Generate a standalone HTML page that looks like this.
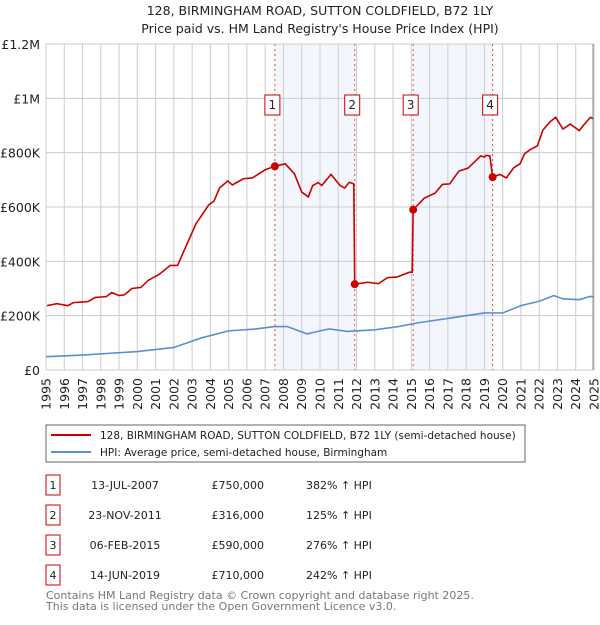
<!DOCTYPE html>
<html><head><meta charset="utf-8"><style>
body{margin:0;background:#fff;font-family:"Liberation Sans","DejaVu Sans",sans-serif;}
svg text{font-family:"DejaVu Sans","Liberation Sans",sans-serif;}
</style></head><body>
<svg id="c" width="600" height="620" xmlns="http://www.w3.org/2000/svg">
<text x="320" y="15" font-size="12.5" text-anchor="middle" fill="#222">128, BIRMINGHAM ROAD, SUTTON COLDFIELD, B72 1LY</text>
<text x="320" y="33" font-size="12.5" text-anchor="middle" fill="#222">Price paid vs. HM Land Registry's House Price Index (HPI)</text>
<g id="plot"></g>
<rect x="46" y="425" width="479" height="37" fill="#fff" stroke="#666"/>
<line x1="51" y1="435" x2="91" y2="435" stroke="#cc0000" stroke-width="2"/>
<text x="100" y="439" font-size="10.5" fill="#222">128, BIRMINGHAM ROAD, SUTTON COLDFIELD, B72 1LY (semi-detached house)</text>
<line x1="51" y1="452" x2="91" y2="452" stroke="#5b8fd4" stroke-width="2"/>
<text x="100" y="456" font-size="10.5" fill="#222">HPI: Average price, semi-detached house, Birmingham</text>
<g id="tbl"></g>
<text x="46" y="599" font-size="11" fill="#777">Contains HM Land Registry data © Crown copyright and database right 2025.</text>
<text x="46" y="610" font-size="11" fill="#777">This data is licensed under the Open Government Licence v3.0.</text>
</svg>
<script>
const priceYears=[1995.05,1995.6,1996.2,1996.5,1997.3,1997.7,1998.3,1998.6,1999.0,1999.3,1999.7,2000.2,2000.6,2001.2,2001.8,2002.2,2003.2,2003.9,2004.2,2004.5,2004.95,2005.2,2005.8,2006.3,2007.0,2007.53,2008.1,2008.6,2009.0,2009.36,2009.6,2009.9,2010.1,2010.6,2011.1,2011.35,2011.6,2011.85,2011.9,2012.6,2013.2,2013.7,2014.2,2014.9,2015.05,2015.1,2015.7,2016.3,2016.7,2017.1,2017.6,2018.1,2018.8,2019.0,2019.1,2019.3,2019.45,2019.85,2020.2,2020.6,2020.95,2021.2,2021.5,2021.9,2022.2,2022.6,2022.9,2023.3,2023.7,2024.2,2024.4,2024.8,2024.95];
const priceVals=[237,244,237,248,252,267,270,285,274,277,300,304,330,352,385,385,537,607,622,670,696,681,704,707,737,750,759,722,655,637,679,690,679,720,679,670,691,685,316,323,318,340,342,360,360,590,632,651,683,685,732,743,788,784,790,788,710,720,707,744,759,796,811,825,883,914,930,887,905,881,899,930,925];
const hpiYears=[1995,1997,2000,2002,2003.5,2005,2006.5,2007.5,2008.2,2009.3,2010,2010.5,2011.5,2013,2014.3,2015.3,2017.5,2019,2020,2021,2022,2022.8,2023.3,2024.2,2024.8,2025];
const hpiVals=[49,55,68,83,118,144,151,160,160,133,144,151,142,148,160,173,195,210,210,237,253,274,262,259,271,268];
const saleYears=[2007.53,2011.9,2015.1,2019.45];
const saleVals=[750,316,590,710];
const saleDates=["13-JUL-2007","23-NOV-2011","06-FEB-2015","14-JUN-2019"];
const salePrices=["£750,000","£316,000","£590,000","£710,000"];
const salePct=["382% ↑ HPI","125% ↑ HPI","276% ↑ HPI","242% ↑ HPI"];
const yTicks=[0,200,400,600,800,1000,1200];
const yTickLabels=["£0","£200K","£400K","£600K","£800K","£1M","£1.2M"];
const NS="http://www.w3.org/2000/svg";
const X0=46,X1=594,Y0=370,Y1=44;
const xs=y=>X0+(y-1995)/30*(X1-X0);
const ys=v=>Y0-v/1200*(Y0-Y1);
const g=document.getElementById('plot');
function mk(t,a,p){const e=document.createElementNS(NS,t);for(const k in a)e.setAttribute(k,a[k]);(p||g).appendChild(e);return e;}
let e;
e=mk('rect',{x:X0,y:Y1,width:X1-X0,height:Y0-Y1,fill:'#fff'});


[[0,1],[2,3]].forEach(p=>{e=mk('rect',{x:xs(saleYears[p[0]]),y:Y1,width:xs(saleYears[p[1]])-xs(saleYears[p[0]]),height:Y0-Y1,fill:'#eef3fc',opacity:0.7});

});
for(let y=1995;y<=2025;y++){e=mk('line',{x1:xs(y),x2:xs(y),y1:Y1,y2:Y0,stroke:'#ccc','stroke-width':1});


const t=mk('text',{x:0,y:0,'font-size':12.5,fill:'#222','text-anchor':'end',transform:`translate(${xs(y)+4.5},${Y0+8}) rotate(-90)`});t.textContent=y;

}
yTicks.forEach((v,i)=>{e=mk('line',{x1:X0,x2:X1,y1:ys(v),y2:ys(v),stroke:'#ccc','stroke-width':1});


const t=mk('text',{x:X0-6,y:ys(v)+5,'font-size':12.5,fill:'#222','text-anchor':'end'});t.textContent=yTickLabels[i];

});
e=mk('line',{x1:X1-1,x2:X1-1,y1:Y1,y2:Y0,stroke:'#888','stroke-width':1});


saleYears.forEach((y,i)=>{e=mk('line',{x1:xs(y),x2:xs(y),y1:Y1,y2:Y0,stroke:'#ee4444','stroke-width':1,'stroke-dasharray':'2,3'});

});
e=mk('polyline',{points:hpiYears.map((y,i)=>xs(y)+','+ys(hpiVals[i])).join(' '),fill:'none',stroke:'#5b8fd4','stroke-width':1.6});


e=mk('polyline',{points:priceYears.map((y,i)=>xs(y)+','+ys(priceVals[i])).join(' '),fill:'none',stroke:'#cc0000','stroke-width':1.6});


saleYears.forEach((y,i)=>{e=mk('circle',{cx:xs(y),cy:ys(saleVals[i]),r:4,fill:'#cc0000'});


const bx=xs(y)-10;
const r=mk('rect',{x:bx,y:95,width:15,height:20,fill:'#fff',stroke:'#cc0000'});


const t=mk('text',{x:bx+7.5,y:109,'font-size':12,'text-anchor':'middle',fill:'#222'});t.textContent=i+1;

});
const tb=document.getElementById('tbl');
saleDates.forEach((d,i)=>{const cy=485+i*30;
let r=mk('rect',{x:46,y:cy-10,width:14,height:20,fill:'#fff',stroke:'#cc0000'},tb);


let t=mk('text',{x:53,y:cy+4,'font-size':11,'text-anchor':'middle',fill:'#222'},tb);t.textContent=i+1;


t=mk('text',{x:125,y:cy+4,'font-size':11,'text-anchor':'middle',fill:'#222'},tb);t.textContent=d;


t=mk('text',{x:264,y:cy+4,'font-size':11,'text-anchor':'end',fill:'#222'},tb);t.textContent=salePrices[i];


t=mk('text',{x:306,y:cy+4,'font-size':11,fill:'#222'},tb);t.textContent=salePct[i];

});
</script>
</body></html>
